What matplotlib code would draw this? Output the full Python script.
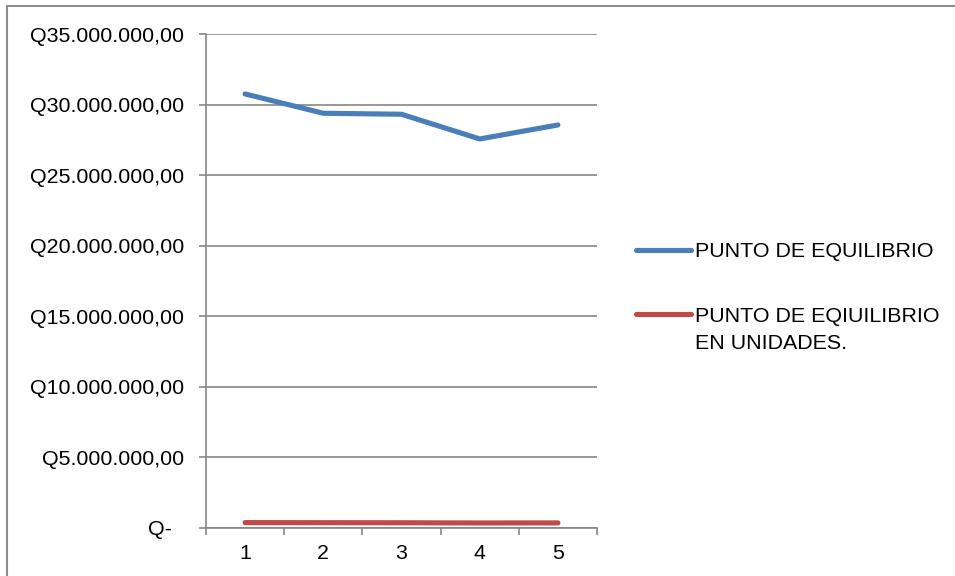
import matplotlib
matplotlib.use("Agg")
import matplotlib.pyplot as plt
from matplotlib.patches import Rectangle
from matplotlib.ticker import FixedLocator, FuncFormatter

plt.rcParams['font.family'] = ['Liberation Sans', 'DejaVu Sans']

# Break-even figures for five periods
periods = [1, 2, 3, 4, 5]
period_labels = ["1", "2", "3", "4", "5"]
punto_equilibrio = [30_750_000, 29_380_000, 29_310_000, 27_560_000, 28_550_000]
punto_unidades = [360_000, 355_000, 350_000, 335_000, 340_000]
y_ticks = [0, 5_000_000, 10_000_000, 15_000_000, 20_000_000, 25_000_000, 30_000_000, 35_000_000]

BLUE = "#4A7EBB"
RED = "#BE4B48"
GRID = "#868686"
FS = 15.4

fig = plt.figure(figsize=(9.55, 5.76), dpi=100)
fig.patch.set_facecolor("white")

# outer chart border
fig.patches.append(Rectangle((6.5 / 955, -0.05), 1.2, 1 - 5.5 / 576 + 0.05,
                             transform=fig.transFigure, fill=False,
                             edgecolor="#8C8C8C", linewidth=1.5))

ax = fig.add_axes([206 / 955, 1 - 527.7 / 576, 391 / 955, (527.7 - 34) / 576])

ax.plot(periods, punto_equilibrio, color=BLUE, lw=3.7, solid_capstyle="round",
        label="PUNTO DE EQUILIBRIO", zorder=3)
ax.plot(periods, punto_unidades, color=RED, lw=3.7, solid_capstyle="round",
        label="PUNTO DE EQIUILIBRIO", zorder=3)

ax.set_xlim(0.5, 5.5)
ax.set_ylim(0, 35_000_000)

ax.set_yticks(y_ticks)


def money(v, pos):
    if v == 0:
        return "Q-  "
    s = f"{v:,.2f}"
    s = s.replace(",", "X").replace(".", ",").replace("X", ".")
    return "Q" + s


ax.yaxis.set_major_formatter(FuncFormatter(money))
ax.set_xticks(periods)
ax.set_xticklabels(period_labels)
ax.xaxis.set_minor_locator(FixedLocator([0.5 + i for i in range(6)]))

ax.tick_params(axis="x", which="major", length=0, pad=12, labelsize=FS)
ax.tick_params(axis="x", which="minor", length=5, width=1.2, color=GRID, direction="out")
ax.tick_params(axis="y", which="major", length=5, width=1.2, color=GRID,
               direction="out", pad=11, labelsize=FS)

ax.grid(axis="y", color=GRID, lw=1.2, zorder=0)
ax.set_axisbelow(True)
for side in ("top", "right"):
    ax.spines[side].set_visible(False)
for side in ("left", "bottom"):
    ax.spines[side].set_color(GRID)
    ax.spines[side].set_linewidth(1.2)

leg = ax.legend(loc="upper left", bbox_to_anchor=(636 / 955, 1 - 242 / 576),
                bbox_transform=fig.transFigure, frameon=False, fontsize=FS,
                handlelength=2.55, handletextpad=0.22, labelspacing=2.13,
                borderaxespad=0, borderpad=0)

# second line of the red legend entry (drawn after the legend is laid out)
ax.annotate("EN UNIDADES.", xy=(0, 0), xycoords=leg.get_texts()[1],
            xytext=(0, -19.5), textcoords="offset points",
            fontsize=FS, ha="left", va="bottom", zorder=10)

fig.savefig("out.png", dpi=100, facecolor="white")
